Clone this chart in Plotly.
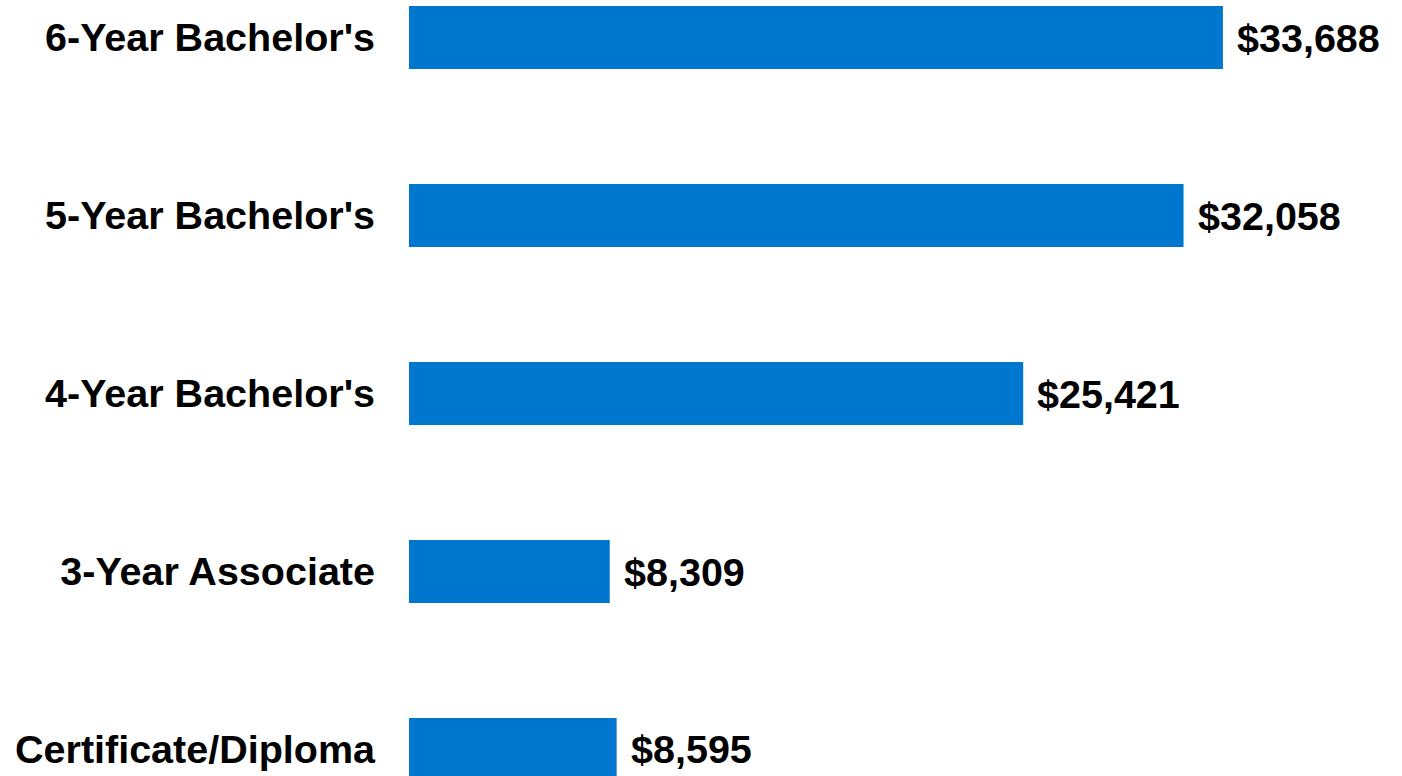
import plotly.graph_objects as go

categories = ["Certificate/Diploma", "3-Year Associate", "4-Year Bachelor's", "5-Year Bachelor's", "6-Year Bachelor's"]
values = [8595, 8309, 25421, 32058, 33688]
value_labels = ["$8,595", "$8,309", "$25,421", "$32,058", "$33,688"]

BAR_COLOR = "#0077CF"
FONT = "Liberation Sans, Arial, sans-serif"

fig = go.Figure()
fig.add_trace(go.Bar(
    y=categories,
    x=values,
    orientation="h",
    marker=dict(color=BAR_COLOR, line=dict(width=0)),
    width=0.354,
    hoverinfo="skip",
))

for cat, v, lab in zip(categories, values, value_labels):
    fig.add_annotation(
        x=v, y=cat, text="<b>" + lab + "</b>", showarrow=False,
        xanchor="left", yanchor="middle", xshift=12, yshift=0,
        font=dict(family=FONT, size=39.5, color="#000000"),
    )

fig.update_layout(
    width=1402, height=776,
    margin=dict(l=409, r=0, t=0, b=0),
    paper_bgcolor="white", plot_bgcolor="white",
    showlegend=False,
    font=dict(family=FONT, color="#000000"),
)
fig.update_xaxes(range=[0, 41100], visible=False, showgrid=False, zeroline=False)
fig.update_yaxes(
    type="category", range=[-0.149, 4.211],
    showgrid=False, zeroline=False, showline=False, ticks="",
    tickfont=dict(family=FONT, size=39.5, color="#000000", weight="bold"),
    ticklabelstandoff=33,
)

fig.write_html(
    "out.html",
    config={"displayModeBar": False},
    post_script="document.body.style.margin='0px';document.body.style.overflow='hidden';",
)
